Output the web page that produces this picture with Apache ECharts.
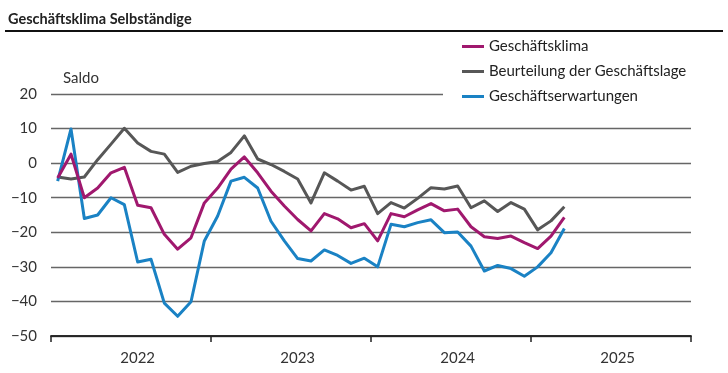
<!DOCTYPE html>
<html>
<head>
<meta charset="utf-8">
<script src="https://cdn.jsdelivr.net/npm/echarts@6/dist/echarts.min.js"></script>
<style>
html,body{margin:0;padding:0;background:#fff;}
#chart{width:728px;height:373px;}
</style>
</head>
<body>
<div id="chart"></div>
<script>
const titleText = 'Geschäftsklima Selbständige';
const axisName = 'Saldo';
const seriesNames = ['Geschäftsklima', 'Beurteilung der Geschäftslage', 'Geschäftserwartungen'];
const years = ['2022', '2023', '2024', '2025'];
const months = [];
years.forEach(y => { for (let m = 1; m <= 12; m++) months.push(y + '-' + String(m).padStart(2, '0')); });
const yTicks = [-50, -40, -30, -20, -10, 0, 10, 20];

const klima = [-4.3, 2.6, -10, -7.2, -2.8, -1.2, -12.2, -12.9, -20.6, -24.9, -21.6, -11.5,
  -7.2, -1.7, 1.8, -2.8, -8.1, -12.4, -16.3, -19.6, -14.6, -16.1, -18.7, -17.5,
  -22.5, -14.6, -15.5, -13.5, -11.7, -13.8, -13.3, -18.4, -21.3, -21.8, -21.1, -23,
  -24.7, -21.1, -15.7];
const lage = [-4, -4.6, -4, 1, 5.5, 10.1, 5.8, 3.4, 2.6, -2.7, -0.9, -0.1,
  0.5, 3.1, 7.9, 1.2, -0.4, -2.4, -4.6, -11.5, -2.8, -5.2, -7.8, -6.7,
  -14.6, -11.4, -13, -10.2, -7.1, -7.5, -6.6, -12.9, -10.9, -14, -11.4, -13.3,
  -19.3, -16.7, -12.6];
const erwartungen = [-5.2, 9.9, -16, -15, -10, -12, -28.6, -27.8, -40.5, -44.3, -40.1, -22.5,
  -15.3, -5.2, -4.1, -7.2, -16.8, -22.5, -27.6, -28.3, -25.1, -26.7, -29, -27.5,
  -30, -17.7, -18.4, -17.2, -16.4, -20.1, -19.9, -24, -31.2, -29.6, -30.5, -32.7,
  -30, -25.9, -18.9];

const colors = ['#a0186e', '#575757', '#1a82c4'];
const FONT = 'Lato';

const chart = echarts.init(document.getElementById('chart'), null, {renderer: 'canvas'});
const mkSeries = (name, data, color, z) => ({
  name, type: 'line', data, symbol: 'none', smooth: false, z,
  lineStyle: {color, width: 3, join: 'round'}, itemStyle: {color}
});
chart.setOption({
  animation: false,
  textStyle: {fontFamily: FONT},
  title: {
    text: titleText, left: 3, top: 7,
    textStyle: {fontFamily: FONT, fontSize: 14.5, fontWeight: 'bold', color: '#222'}
  },
  graphic: [{
    type: 'line', shape: {x1: 5, y1: 31, x2: 723, y2: 31},
    style: {stroke: '#111', lineWidth: 2}
  }],
  legend: {
    orient: 'vertical', left: 443, top: 34,
    padding: [4, 6, 4, 19],
    backgroundColor: '#fff',
    itemWidth: 22, itemHeight: 3, itemGap: 8, itemTextGap: 2,
    icon: 'rect',
    data: seriesNames,
    textStyle: {fontFamily: FONT, fontSize: 15, color: '#222', lineHeight: 17}
  },
  grid: {left: 51, right: 37, top: 94, bottom: 37, containLabel: false},
  xAxis: [{
    type: 'category', data: months, boundaryGap: true,
    axisLine: {show: true, onZero: false, lineStyle: {color: '#222', width: 1.5}},
    axisTick: {show: false},
    axisLabel: {interval: (i) => i % 12 === 6, formatter: v => v.slice(0, 4),
      fontFamily: FONT, fontSize: 15, color: '#333', margin: 15},
    splitLine: {show: false}
  }, {
    type: 'value', position: 'bottom', min: 0, max: months.length, interval: 12,
    axisLine: {show: true, onZero: false, lineStyle: {color: '#222', width: 1.5}},
    axisTick: {show: true, length: 6, lineStyle: {color: '#222', width: 1.5}},
    axisLabel: {show: false},
    splitLine: {show: false}
  }],
  yAxis: {
    type: 'value', min: yTicks[0], max: yTicks[yTicks.length - 1], interval: 10,
    name: axisName, nameLocation: 'end', nameGap: 8,
    nameTextStyle: {fontFamily: FONT, fontSize: 15, color: '#333', align: 'left', padding: [0, 0, 0, 12]},
    axisLine: {show: false}, axisTick: {show: false},
    axisLabel: {fontFamily: FONT, fontSize: 15, color: '#333', margin: 14,
      formatter: v => (v < 0 ? '\u2212' + Math.abs(v) : String(v))},
    splitLine: {show: true, lineStyle: {color: '#666', width: 1.3}}
  },
  series: [
    mkSeries(seriesNames[1], lage, colors[1], 2),
    mkSeries(seriesNames[2], erwartungen, colors[2], 3),
    mkSeries(seriesNames[0], klima, colors[0], 4)
  ]
});
</script>
</body>
</html>
